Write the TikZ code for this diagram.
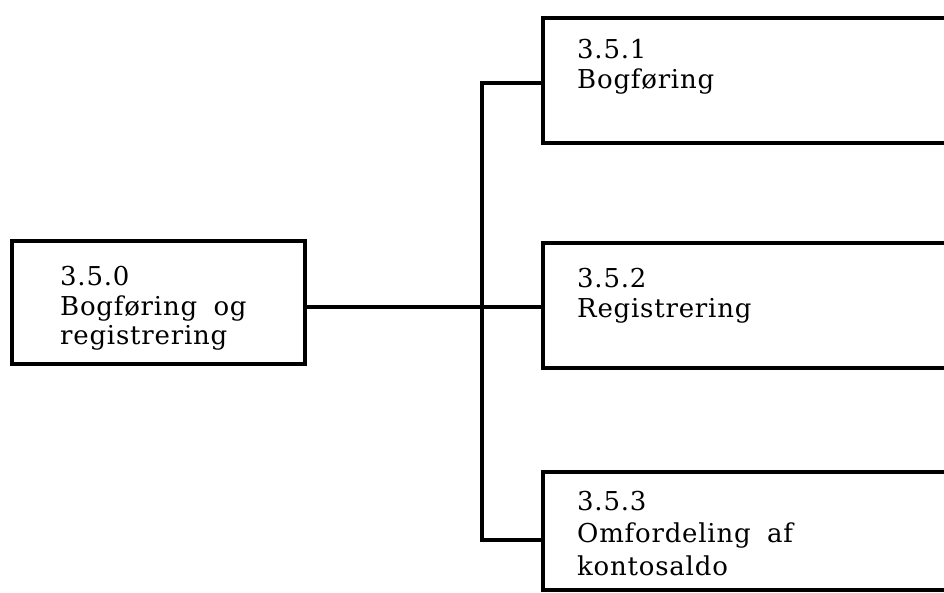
\documentclass[tikz,border=0pt]{standalone}
\usepackage{fontspec}
\setmainfont{DejaVu Serif}[LetterSpace=3,WordSpace=1.8]
\begin{document}
\begin{tikzpicture}[x=1pt,y=-1pt,
  box/.style={draw=black, line width=3.8pt, fill=none, inner sep=0pt, rectangle},
  lbl/.style={anchor=base west, inner sep=0pt, font=\fontsize{26}{30}\selectfont},
  wire/.style={draw=black, line width=3.4pt}]
\useasboundingbox (0,0) rectangle (944,592);
% boxes
\node[box, minimum width=293pt, minimum height=123pt] (L) at (158.5,302.5) {};
\node[box, minimum width=420pt, minimum height=125pt] (B1) at (753,80.5) {};
\node[box, minimum width=420pt, minimum height=125pt] (B2) at (753,305.5) {};
\node[box, minimum width=420pt, minimum height=118pt] (B3) at (753,531) {};
% texts
\node[lbl] (L1) at (60,285) {3.5.0};
\node[lbl] (L2) at (60,315) {Bogføring og};
\node[lbl] (L3) at (60,344) {registrering};
\node[lbl] (A1) at (577,58) {3.5.1};
\node[lbl] (A2) at (577,88) {Bogføring};
\node[lbl] (C1) at (577,287) {3.5.2};
\node[lbl] (C2) at (577,317) {Registrering};
\node[lbl] (D1) at (577,510) {3.5.3};
\node[lbl] (D2) at (577,542) {Omfordeling af};
\node[lbl] (D3) at (577,575) {kontosaldo};
% connectors
\coordinate (jt) at (482,83);
\coordinate (jb) at (482,540);
\draw[wire] (L.east |- 0,307) -- (B2.west |- 0,307);
\draw[wire] (jt -| B1.west) -- (jt) -- (jb) -- (jb -| B3.west);
\end{tikzpicture}
\end{document}
